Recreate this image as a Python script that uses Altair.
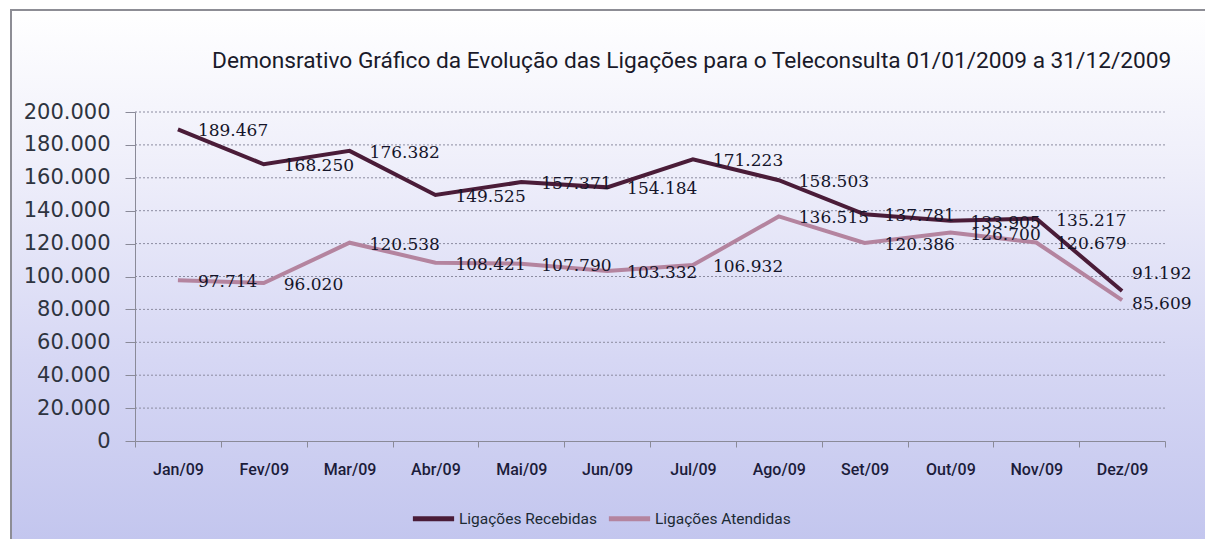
import altair as alt
import pandas as pd

months = ["Jan/09", "Fev/09", "Mar/09", "Abr/09", "Mai/09", "Jun/09",
          "Jul/09", "Ago/09", "Set/09", "Out/09", "Nov/09", "Dez/09"]
recebidas = [189467, 168250, 176382, 149525, 157371, 154184,
             171223, 158503, 137781, 133905, 135217, 91192]
atendidas = [97714, 96020, 120538, 108421, 107790, 103332,
             106932, 136515, 120386, 126700, 120679, 85609]
series_names = ["Ligações Recebidas", "Ligações Atendidas"]
series_colors = ["#4a1c38", "#b4849f"]
y_ticks = list(range(0, 200001, 20000))
title_text = "Demonsrativo Gráfico da Evolução das Ligações para o Teleconsulta 01/01/2009 a 31/12/2009"


def fmt(v):
    return f"{v:,}".replace(",", ".")


rows = []
for m, r, a in zip(months, recebidas, atendidas):
    rows.append({"mes": m, "serie": series_names[0], "valor": r, "rotulo": fmt(r)})
    rows.append({"mes": m, "serie": series_names[1], "valor": a, "rotulo": fmt(a)})
df = pd.DataFrame(rows)
grid_df = pd.DataFrame({"valor": y_ticks[1:]})

W, H = 1030, 329
PL, PT, PR, PB = 127, 104, 40, 98
COND = "Roboto, Liberation Sans, sans-serif"
y_scale = alt.Scale(domain=[0, 200000])
last = months[-1]

bg = alt.Chart(pd.DataFrame({"k": [0]})).mark_rect(
    fill=alt.LinearGradient(
        gradient="linear",
        stops=[alt.GradientStop(color="#ffffff", offset=0),
               alt.GradientStop(color="#eeeefa", offset=0.3),
               alt.GradientStop(color="#d6d7f4", offset=0.65),
               alt.GradientStop(color="#c2c5ee", offset=1)],
        x1=0, x2=0, y1=0, y2=1),
    stroke="#8d8d95", strokeWidth=2
).encode(x=alt.value(-PL + 3), x2=alt.value(W + PR + 10),
         y=alt.value(-PT + 2), y2=alt.value(H + PB + 10))

title = alt.Chart(pd.DataFrame({"k": [0]})).mark_text(
    align="left", baseline="middle", font=COND, fontSize=22.7, color="#1a1a2a"
).encode(x=alt.value(77), y=alt.value(-51), text=alt.value(title_text))

x_enc = alt.X("mes:N", sort=months,
              scale=alt.Scale(type="band", paddingInner=0, paddingOuter=0),
              axis=alt.Axis(title=None, tickBand="extent", labelAngle=0, zindex=1,
                            labelFont=COND, labelFontSize=16, labelFontWeight=500,
                            labelColor="#1c1c3a",
                            domainColor="#8a8a98", tickColor="#8a8a98",
                            tickSize=6, labelPadding=14, grid=False))
y_enc = alt.Y("valor:Q", scale=y_scale,
              axis=alt.Axis(values=y_ticks, title=None, zindex=1,
                            labelExpr="replace(format(datum.value, ','), ',', '.')",
                            grid=False,
                            domainColor="#8a8a98", tickColor="#8a8a98", tickSize=10,
                            labelFont="DejaVu Sans", labelFontSize=21,
                            labelColor="#2e3440", labelPadding=15))

grid = alt.Chart(grid_df).mark_rule(strokeDash=[2, 2], color="#8c8ca0", strokeWidth=1).encode(
    y=y_enc)

base = alt.Chart(df)
lines = base.mark_line(strokeWidth=4).encode(
    x=x_enc, y=y_enc,
    color=alt.Color("serie:N",
                    scale=alt.Scale(domain=series_names, range=series_colors),
                    legend=alt.Legend(title=None, orient="none", legendX=275, legendY=383,
                                      direction="horizontal", symbolType="stroke",
                                      symbolSize=1700, symbolStrokeWidth=5,
                                      labelOffset=2,
                                      labelFont=COND, labelFontSize=15.5,
                                      labelColor="#1c2a34", columnPadding=0)),
)
label_style = dict(align="left", baseline="middle", font="DejaVu Serif",
                   fontSize=17, color="#15152a")
labels = base.transform_filter(alt.datum.mes != last).mark_text(
    dx=20, dy=2, **label_style).encode(x=x_enc, y=y_enc, text="rotulo:N")
label_last_rec = base.transform_filter(
    (alt.datum.mes == last) & (alt.datum.serie == series_names[0])).mark_text(
    dx=10, dy=-17, **label_style).encode(x=x_enc, y=y_enc, text="rotulo:N")
label_last_at = base.transform_filter(
    (alt.datum.mes == last) & (alt.datum.serie == series_names[1])).mark_text(
    dx=10, dy=4, **label_style).encode(x=x_enc, y=y_enc, text="rotulo:N")

chart = alt.layer(bg, title, grid, lines, labels, label_last_rec, label_last_at).properties(
    width=W, height=H,
    autosize=alt.AutoSizeParams(type="none"),
    padding={"left": PL, "top": PT, "right": PR, "bottom": PB},
).configure_view(stroke=None).configure(background="#ffffff")

chart.save("out.html", embed_options={"renderer": "svg", "actions": False})
